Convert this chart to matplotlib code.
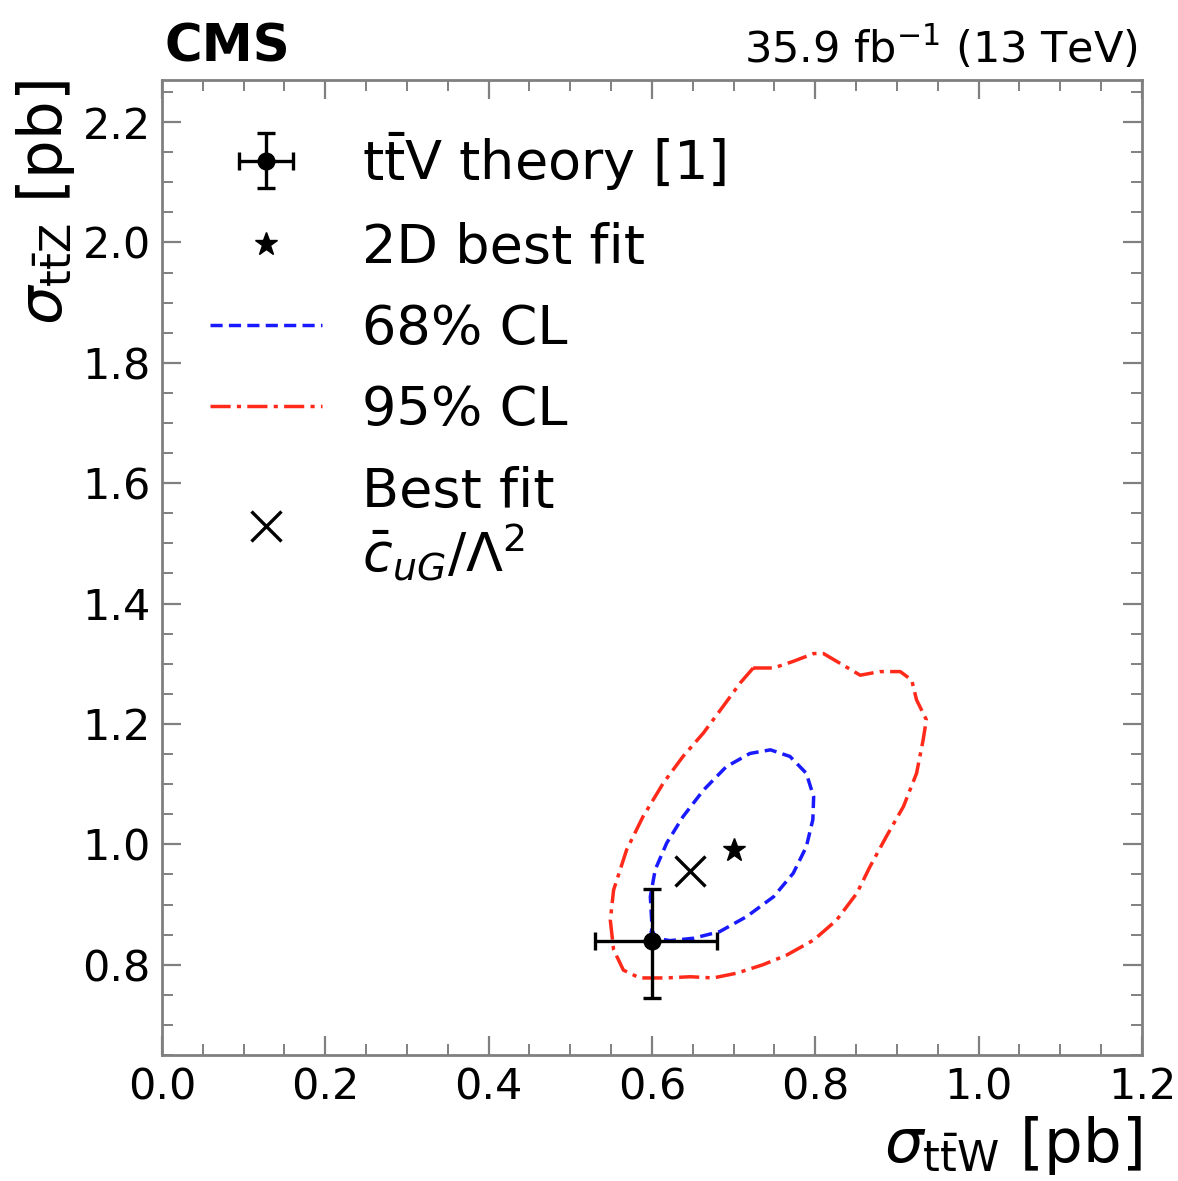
'''plot.py

   CMS ttW / ttZ cross section plane: 68% / 95% CL contours,
   theory point and best fits.
'''

import numpy as np
import matplotlib
matplotlib.use('Agg')
import matplotlib.pyplot as plt
from matplotlib.ticker import MultipleLocator


#
#  Data
#
# theory prediction with asymmetric errors
theory_x = 0.60
theory_y = 0.84
theory_xerr = [[0.07], [0.08]]
theory_yerr = [[0.095], [0.085]]

# 2D best fit and the cuG best fit
fit2d_x, fit2d_y = 0.70, 0.99
cug_x, cug_y = 0.647, 0.956

# 68% CL contour
cl68_x = [0.601, 0.598, 0.604, 0.618, 0.638, 0.663, 0.691, 0.720, 0.745,
          0.769, 0.789, 0.798, 0.797, 0.789, 0.773, 0.749, 0.716, 0.683,
          0.651, 0.622, 0.605, 0.598, 0.601]
cl68_y = [0.841, 0.913, 0.958, 1.002, 1.046, 1.090, 1.129, 1.151, 1.157,
          1.146, 1.118, 1.079, 1.041, 0.996, 0.952, 0.913, 0.880, 0.855,
          0.844, 0.840, 0.844, 0.863, 0.841]

# 95% CL contour
cl95_x = [0.724, 0.708, 0.687, 0.663, 0.638, 0.614, 0.589, 0.569, 0.553,
          0.549, 0.553, 0.565, 0.585, 0.617, 0.647, 0.675, 0.704, 0.736,
          0.765, 0.798, 0.826, 0.851, 0.867, 0.887, 0.908, 0.924, 0.932,
          0.936, 0.924, 0.918, 0.904, 0.879, 0.855, 0.830, 0.810, 0.798,
          0.773, 0.749, 0.724]
cl95_y = [1.293, 1.268, 1.229, 1.185, 1.146, 1.102, 1.046, 0.991, 0.924,
          0.874, 0.825, 0.791, 0.778, 0.778, 0.780, 0.778, 0.786, 0.800,
          0.816, 0.841, 0.874, 0.919, 0.963, 1.013, 1.063, 1.118, 1.173,
          1.207, 1.240, 1.273, 1.287, 1.287, 1.281, 1.301, 1.317, 1.317,
          1.304, 1.293, 1.293]

xlim = (0.0, 1.2)
ylim = (0.65, 2.27)


#
#  Plot.
#
plt.rcParams['font.family'] = ['DejaVu Sans']
plt.rcParams['mathtext.fontset'] = 'dejavusans'

fig = plt.figure(figsize=(11.78, 11.81), dpi=100)
ax = fig.add_axes([0.1375, 0.1067, 0.8319, 0.8256])

spine_col = '#808080'
lw = 2.5

l68, = ax.plot(cl68_x, cl68_y, color='#1a1aff', lw=lw, dashes=(3.5, 1.8))
l95, = ax.plot(cl95_x, cl95_y, color='#ff2a1a', lw=lw,
               dashes=(5.8, 1.8, 1.2, 1.8))

eb = ax.errorbar([theory_x], [theory_y], xerr=theory_xerr, yerr=theory_yerr,
                 fmt='o', color='black', ms=12, elinewidth=2.4, capsize=6.5,
                 capthick=2.4)
st, = ax.plot([fit2d_x], [fit2d_y], ls='none', marker='*', color='black',
              ms=17)
cx, = ax.plot([cug_x], [cug_y], ls='none', marker='x', color='black',
              ms=22, mew=2.4)

handles = [eb, st, l68, l95, cx]
labels = [r'$\mathrm{t\bar{t}V}$ theory [1]', '2D best fit', '68% CL',
          '95% CL', 'Best fit\n' + r'$\bar{c}_{uG}/\Lambda^2$']
leg = ax.legend(handles, labels, loc='upper left',
                bbox_to_anchor=(0.049, 0.949), frameon=False, fontsize=39,
                borderpad=0, borderaxespad=0, handlelength=2.07,
                handletextpad=0.74, labelspacing=0.54)
leg.get_texts()[4].set_linespacing(1.08)

ax.set_xlim(*xlim)
ax.set_ylim(*ylim)

ax.xaxis.set_major_locator(MultipleLocator(0.2))
ax.xaxis.set_minor_locator(MultipleLocator(0.05))
ax.yaxis.set_major_locator(MultipleLocator(0.2))
ax.yaxis.set_minor_locator(MultipleLocator(0.05))
ax.xaxis.set_major_formatter(plt.FormatStrFormatter('%.1f'))
ax.yaxis.set_major_formatter(plt.FormatStrFormatter('%.1f'))

ax.tick_params(which='both', direction='in', top=True, right=True,
               color=spine_col, labelsize=31)
ax.tick_params(which='major', length=14, width=1.6, pad=8)
ax.tick_params(which='minor', length=8, width=1.4)
for s in ax.spines.values():
    s.set_color(spine_col)
    s.set_linewidth(2.0)

ax.set_xlabel(r'$\sigma_{\mathrm{t\bar{t}W}}$ [pb]', fontsize=44, loc='right')
ax.set_ylabel(r'$\sigma_{\mathrm{t\bar{t}Z}}$ [pb]', fontsize=44, loc='top')

ax.text(0.003, 1.008, 'CMS', transform=ax.transAxes, fontsize=37,
        fontweight='bold', ha='left', va='bottom')
ax.text(0.996, 1.008, r'35.9 fb$^{-1}$ (13 TeV)', transform=ax.transAxes,
        fontsize=31, ha='right', va='bottom')

fig.savefig('out.png', dpi=100)
